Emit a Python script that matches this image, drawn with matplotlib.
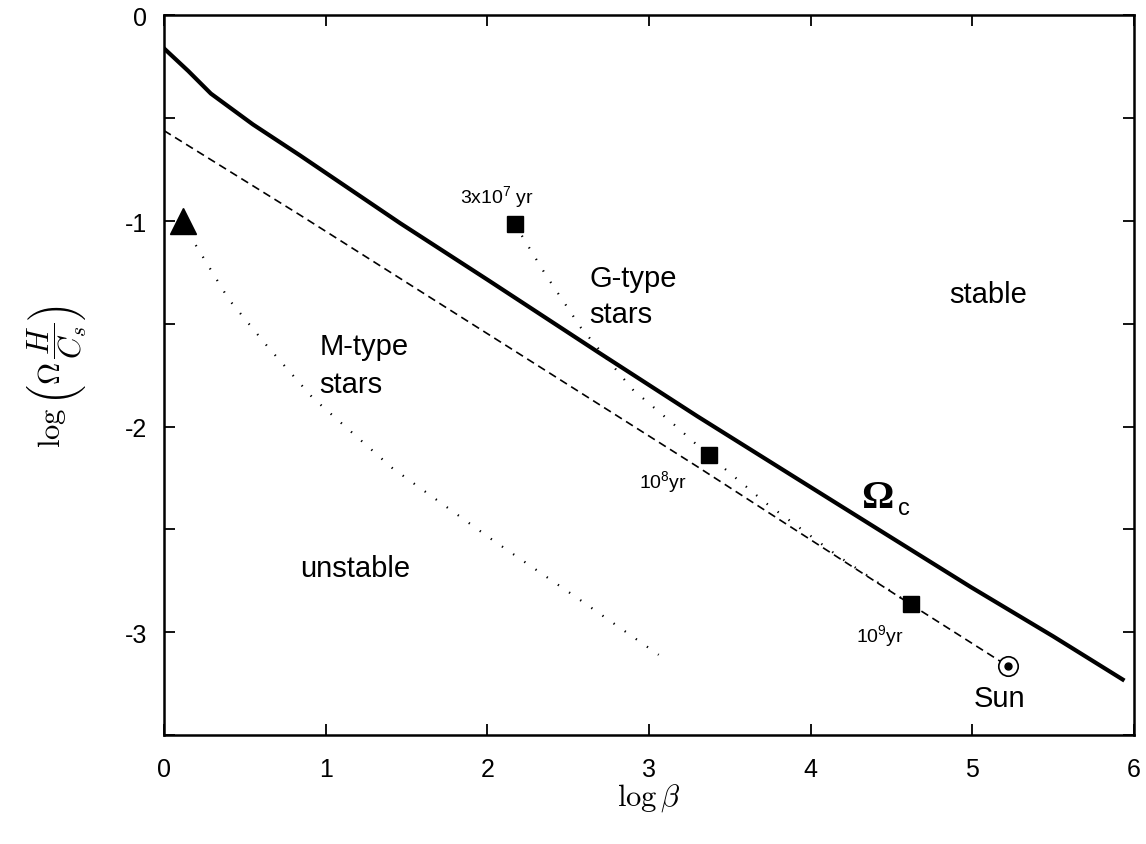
import matplotlib
matplotlib.use('Agg')
import matplotlib.pyplot as plt
import numpy as np

plt.rcParams['font.family'] = ['Liberation Sans', 'DejaVu Sans']
plt.rcParams['mathtext.fontset'] = 'custom'
plt.rcParams['mathtext.rm'] = 'Liberation Sans'
plt.rcParams['mathtext.it'] = 'Liberation Sans:italic'

## courbe critique Omega_c
omc_x = [0.0, 0.15, 0.29, 0.55, 0.84, 1.46, 2.01, 2.69, 3.3, 3.93, 4.5, 4.99, 5.5, 5.93]
omc_y = [-0.16, -0.27, -0.38, -0.53, -0.68, -1.01, -1.29, -1.64, -1.95, -2.26, -2.54, -2.78, -3.02, -3.23]

## droite tiretee jusqu'au Soleil
dash_x = [0.0, 0.84, 3.29, 4.62, 5.22]
dash_y = [-0.56, -0.97, -2.19, -2.865, -3.165]

## evolution des etoiles G (pointilles)
g_x = [2.17, 2.36, 2.58, 2.90, 3.17, 3.37, 3.72, 4.17, 4.62]
g_y = [-1.015, -1.26, -1.52, -1.82, -2.00, -2.14, -2.37, -2.63, -2.865]

## etoiles M (pointilles)
m_x = [0.12, 0.16, 0.40, 0.64, 0.92, 1.41, 2.03, 2.55, 3.06]
m_y = [-1.0, -1.07, -1.38, -1.61, -1.86, -2.20, -2.55, -2.83, -3.11]

## points
sq_x = [2.17, 3.37, 4.62]
sq_y = [-1.015, -2.14, -2.865]
tri_x, tri_y = [0.12], [-1.0]
sun_x, sun_y = [5.22], [-3.165]

fig = plt.figure(figsize=(11.46, 8.45), dpi=100)
ax = fig.add_axes([0.1431, 0.129, 0.8464, 0.8515])

ax.plot(omc_x, omc_y, color='black', lw=3)
ax.plot(dash_x, dash_y, color='black', lw=1.2, linestyle=(0, (4.8, 3)))
ax.plot(g_x, g_y, color='black', lw=1.6, linestyle=(0, (0.6, 5.5)))
ax.plot(m_x, m_y, color='black', lw=1.6, linestyle=(0, (0.6, 5.5)))
ax.plot(sq_x, sq_y, 's', color='black', ms=12)
ax.plot(tri_x, tri_y, '^', color='black', ms=19)
ax.plot(sun_x, sun_y, 'o', mfc='white', mec='black', mew=1.2, ms=14)
ax.plot(sun_x, sun_y, 'o', color='black', ms=5)

## textes
ax.text(1.83, -0.907, r'3x10$^{7}$ yr', fontsize=14)
ax.text(2.94, -2.294, r'10$^{8}$yr', fontsize=14)
ax.text(4.28, -3.044, r'10$^{9}$yr', fontsize=14)
ax.text(2.63, -1.316, 'G-type', fontsize=21)
ax.text(2.63, -1.49, 'stars', fontsize=21)
ax.text(0.963, -1.647, 'M-type', fontsize=21)
ax.text(0.963, -1.832, 'stars', fontsize=21)
ax.text(0.84, -2.727, 'unstable', fontsize=21)
ax.text(4.86, -1.394, 'stable', fontsize=21)
ax.text(5.006, -3.36, 'Sun', fontsize=21)
ax.text(4.31, -2.39, '\u03a9', fontsize=29, fontweight='bold', family='Liberation Serif')
ax.text(4.54, -2.425, 'c', fontsize=17)

ax.set_xlim(0, 6)
ax.set_ylim(-3.5, 0)
ax.set_xticks(np.arange(0, 7, 1))
ax.set_yticks(np.arange(-3, 1, 1))
ax.set_yticks(np.arange(-3.5, 0.1, 0.5), minor=True)
ax.set_yticklabels(['-3', '-2', '-1', '0'])
ax.tick_params(which='both', direction='in', length=8, width=1.3,
               top=True, right=True, labelsize=18)
ax.tick_params(axis='x', pad=16)
ax.tick_params(axis='y', pad=12)
for s in ax.spines.values():
    s.set_linewidth(1.8)

ax.set_xlabel(r'$\log\beta$', fontsize=22, math_fontfamily='cm', labelpad=0)
ax.set_ylabel(r'$\log\left(\Omega\,\dfrac{H}{C_s}\right)$', fontsize=22,
              math_fontfamily='cm', labelpad=26)

fig.savefig('out.png', dpi=100)
